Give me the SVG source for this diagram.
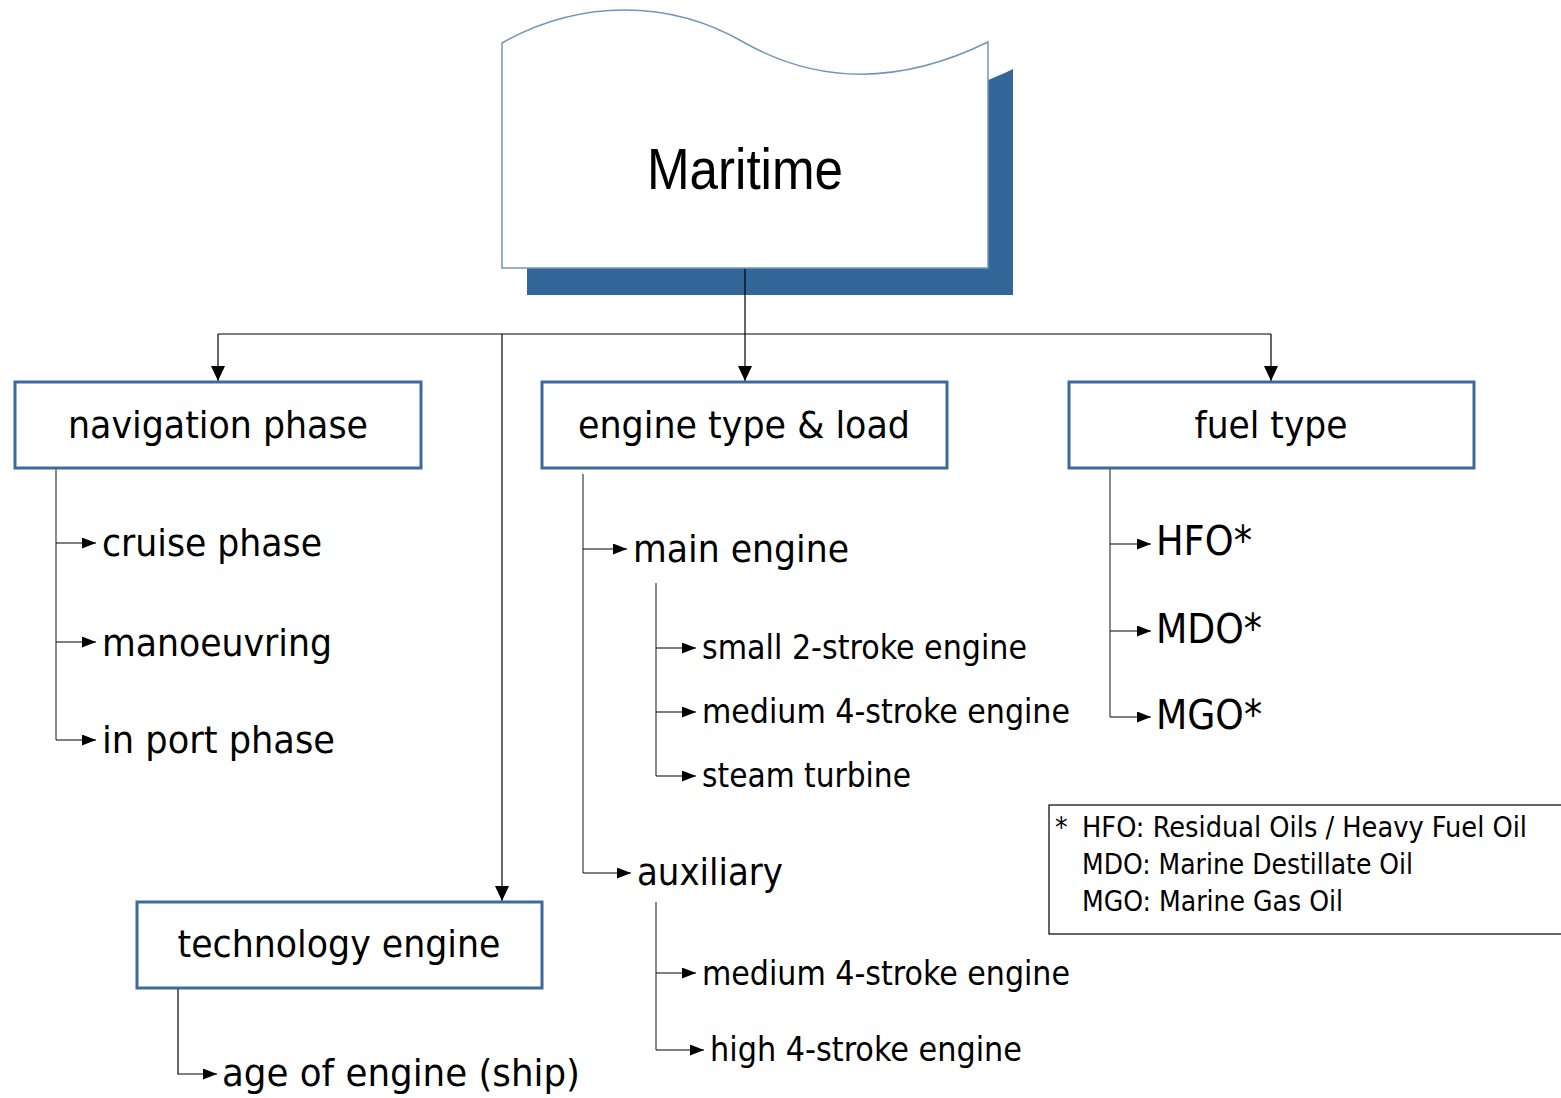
<svg xmlns="http://www.w3.org/2000/svg" width="1561" height="1098" viewBox="0 0 1561 1098">
<style>
.box{fill:#fff;stroke:#3b6b9e;stroke-width:3}
.t{font-family:"DejaVu Sans Condensed","DejaVu Sans",sans-serif;fill:#000}
.b{font-size:38px}
.s{font-size:33px}
.f{font-size:41px}
.l{font-size:28px}
.c{fill:none;stroke:#000;stroke-width:1.2}
.g{fill:none;stroke:#6e6e6e;stroke-width:1.6}
</style>
<defs>
<marker id="ad" markerUnits="userSpaceOnUse" markerWidth="14" markerHeight="15" refX="7" refY="15" orient="0" viewBox="0 0 14 15"><path d="M0,0 L14,0 L7,15 z" fill="#000"/></marker>
<marker id="ar" markerUnits="userSpaceOnUse" markerWidth="14" markerHeight="11" refX="14" refY="5.5" orient="auto" viewBox="0 0 14 11"><path d="M0,0 L14,5.5 L0,11 z" fill="#000"/></marker>
<path id="doc" d="M502,43 C580,-1 670,-1 745,43 C820,85 900,85 988,42 L988,268 L502,268 Z"/>
</defs>

<g id="maritime">
<use href="#doc" transform="translate(25,27)" fill="#336699"/>
<use href="#doc" fill="#fff" stroke="#7096c0" stroke-width="1.5"/>
<text class="t" x="745" y="189" text-anchor="middle" font-family="Liberation Sans, Arial, sans-serif" style="font-family:'Liberation Sans',Arial,sans-serif" font-size="58" textLength="196" lengthAdjust="spacingAndGlyphs">Maritime</text>
</g>

<g id="connectors">
<path class="c" d="M745,269 V334"/>
<path class="c" d="M218,334 H1271"/>
<path class="c" d="M218,334 V381" marker-end="url(#ad)"/>
<path class="c" d="M745,334 V381" marker-end="url(#ad)"/>
<path class="c" d="M1271,334 V381" marker-end="url(#ad)"/>
<path class="c" d="M502,334 V901" marker-end="url(#ad)"/>
<!-- navigation -->
<path class="g" d="M56,469 V740"/>
<path class="c" d="M56,543 H96" marker-end="url(#ar)"/>
<path class="c" d="M56,642 H96" marker-end="url(#ar)"/>
<path class="c" d="M56,740 H96" marker-end="url(#ar)"/>
<!-- engine -->
<path class="g" d="M583,474 V873"/>
<path class="c" d="M583,549 H627" marker-end="url(#ar)"/>
<path class="c" d="M583,873 H631" marker-end="url(#ar)"/>
<path class="g" d="M656,583 V776"/>
<path class="c" d="M656,648 H696" marker-end="url(#ar)"/>
<path class="c" d="M656,712 H696" marker-end="url(#ar)"/>
<path class="c" d="M656,776 H696" marker-end="url(#ar)"/>
<path class="g" d="M656,902 V1050"/>
<path class="c" d="M656,973 H696" marker-end="url(#ar)"/>
<path class="c" d="M656,1050 H704" marker-end="url(#ar)"/>
<!-- fuel -->
<path class="g" d="M1110,469 V717"/>
<path class="c" d="M1110,544 H1151" marker-end="url(#ar)"/>
<path class="c" d="M1110,631 H1151" marker-end="url(#ar)"/>
<path class="c" d="M1110,717 H1151" marker-end="url(#ar)"/>
<!-- technology -->
<path class="c" d="M178,989 V1074 H217" marker-end="url(#ar)"/>
</g>

<g id="navigation-phase">
<rect class="box" x="15" y="382" width="406" height="86"/>
<text class="t b" x="218" y="438" text-anchor="middle" textLength="300" lengthAdjust="spacingAndGlyphs">navigation phase</text>
</g>
<g id="engine-type-load">
<rect class="box" x="542" y="382" width="405" height="86"/>
<text class="t b" x="744" y="438" text-anchor="middle" textLength="332" lengthAdjust="spacingAndGlyphs">engine type &amp; load</text>
</g>
<g id="fuel-type">
<rect class="box" x="1069" y="382" width="405" height="86"/>
<text class="t b" x="1271" y="438" text-anchor="middle" textLength="153" lengthAdjust="spacingAndGlyphs">fuel type</text>
</g>
<g id="technology-engine">
<rect class="box" x="137" y="902" width="405" height="86"/>
<text class="t b" x="339" y="957" text-anchor="middle" textLength="323" lengthAdjust="spacingAndGlyphs">technology engine</text>
</g>

<g id="cruise-phase"><text class="t b" x="102" y="556" textLength="220" lengthAdjust="spacingAndGlyphs">cruise phase</text></g>
<g id="manoeuvring"><text class="t b" x="102" y="656" textLength="230" lengthAdjust="spacingAndGlyphs">manoeuvring</text></g>
<g id="in-port-phase"><text class="t b" x="102" y="753" textLength="233" lengthAdjust="spacingAndGlyphs">in port phase</text></g>

<g id="main-engine"><text class="t b" x="633" y="562" textLength="216" lengthAdjust="spacingAndGlyphs">main engine</text></g>
<g id="small-2-stroke"><text class="t s" x="702" y="659" textLength="325" lengthAdjust="spacingAndGlyphs">small 2-stroke engine</text></g>
<g id="medium-4-stroke-main"><text class="t s" x="702" y="723" textLength="368" lengthAdjust="spacingAndGlyphs">medium 4-stroke engine</text></g>
<g id="steam-turbine"><text class="t s" x="702" y="787" textLength="209" lengthAdjust="spacingAndGlyphs">steam turbine</text></g>
<g id="auxiliary"><text class="t b" x="637" y="885" textLength="146" lengthAdjust="spacingAndGlyphs">auxiliary</text></g>
<g id="medium-4-stroke-aux"><text class="t s" x="702" y="985" textLength="368" lengthAdjust="spacingAndGlyphs">medium 4-stroke engine</text></g>
<g id="high-4-stroke"><text class="t s" x="710" y="1061" textLength="312" lengthAdjust="spacingAndGlyphs">high 4-stroke engine</text></g>

<g id="hfo"><text class="t f" x="1156" y="555" textLength="96" lengthAdjust="spacingAndGlyphs">HFO*</text></g>
<g id="mdo"><text class="t f" x="1156" y="643" textLength="106" lengthAdjust="spacingAndGlyphs">MDO*</text></g>
<g id="mgo"><text class="t f" x="1156" y="729" textLength="106" lengthAdjust="spacingAndGlyphs">MGO*</text></g>

<g id="age-of-engine"><text class="t b" x="222" y="1086" textLength="358" lengthAdjust="spacingAndGlyphs">age of engine (ship)</text></g>

<g id="legend">
<rect x="1049" y="805" width="520" height="129" fill="#fff" stroke="#000" stroke-width="1.2"/>
<text class="t l" x="1055" y="837">*</text>
<text class="t l" x="1082" y="837" textLength="445" lengthAdjust="spacingAndGlyphs">HFO: Residual Oils / Heavy Fuel Oil</text>
<text class="t l" x="1082" y="874" textLength="331" lengthAdjust="spacingAndGlyphs">MDO: Marine Destillate Oil</text>
<text class="t l" x="1082" y="911" textLength="261" lengthAdjust="spacingAndGlyphs">MGO: Marine Gas Oil</text>
</g>
</svg>
